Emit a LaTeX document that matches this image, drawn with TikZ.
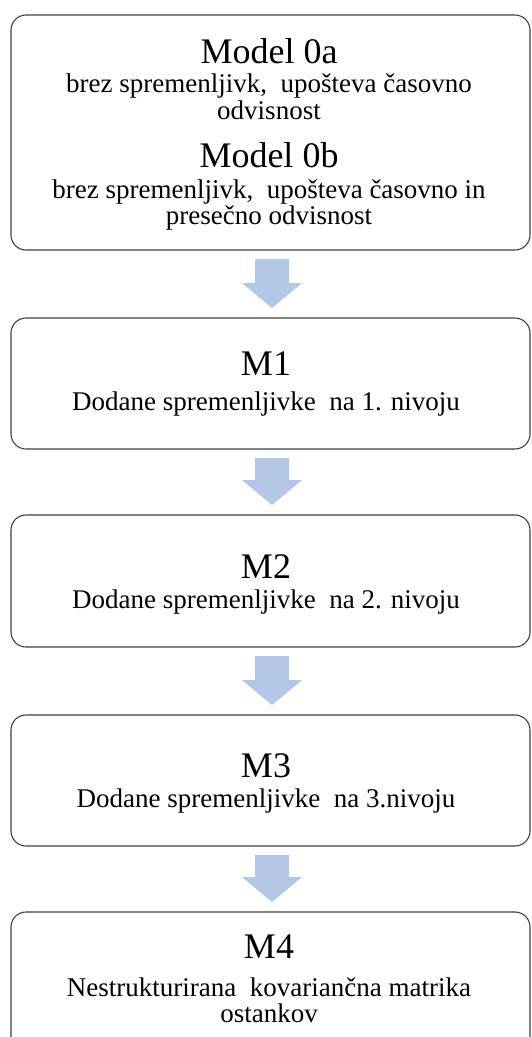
\documentclass[tikz,border=0pt]{standalone}
\usepackage{fontspec}
\setmainfont{Liberation Serif}
\usetikzlibrary{calc}
\definecolor{arrowblue}{RGB}{180,199,231}
\definecolor{boxline}{RGB}{64,64,64}
\tikzset{
  box/.style={draw=boxline, line width=1.1pt, rounded corners=15pt, minimum width=519pt, inner sep=0pt, outer sep=0pt},
  title/.style={anchor=base, font=\fontsize{36}{36}\selectfont, inner sep=0pt},
  sub/.style={anchor=base, font=\fontsize{27}{27}\selectfont, inner sep=0pt},
  flow/.style={fill=arrowblue},
}
\newcommand\flowarrow[2]{%
  \fill[flow] ($(#1.south)+(-15.5,9)$) -- ($(#1.south)+(18.5,9)$)
    -- ($(#2.north)+(18.5,-35)$) -- ($(#2.north)+(31.5,-35)$)
    -- ($(#2.north)+(1.5,-10)$) -- ($(#2.north)+(-28.5,-35)$)
    -- ($(#2.north)+(-15.5,-35)$) -- cycle;}
\begin{document}
\begin{tikzpicture}[x=1pt,y=-1pt]
\clip (0,0) rectangle (531,1037);
\fill[white] (0,0) rectangle (531,1037);
% boxes
\node[box, minimum height=235pt] (b0) at (270.5,132.5) {};
\node[box, minimum height=131pt] (b1) at (270.5,383.5) {};
\node[box, minimum height=132pt] (b2) at (270.5,581) {};
\node[box, minimum height=131pt] (b3) at (270.5,780.5) {};
\node[box, minimum height=160pt] (b4) at (270.5,992) {};
% arrows
\flowarrow{b0}{b1}
\flowarrow{b1}{b2}
\flowarrow{b2}{b3}
\flowarrow{b3}{b4}
% texts
\node[title] (t0a) at (269,63) {Model 0a};
\node[sub] (s0a1) at (269,92) {brez spremenljivk,~ upošteva časovno};
\node[sub] (s0a2) at (269,119) {odvisnost};
\node[title] (t0b) at (269,167) {Model 0b};
\node[sub] (s0b1) at (269,198) {brez spremenljivk,~ upošteva časovno in};
\node[sub] (s0b2) at (269,224) {presečno odvisnost};
\node[title] (t1) at (266,375) {M1};
\node[sub] (s1) at (266,410) {Dodane spremenljivke~ na 1. nivoju};
\node[title] (t2) at (266,578) {M2};
\node[sub] (s2) at (266,608) {Dodane spremenljivke~ na 2. nivoju};
\node[title] (t3) at (266,777) {M3};
\node[sub] (s3) at (266,807) {Dodane spremenljivke~ na 3.nivoju};
\node[title] (t4) at (269,958) {M4};
\node[sub] (s41) at (269,996) {Nestrukturirana~ kovariančna matrika};
\node[sub] (s42) at (269,1022) {ostankov};
\end{tikzpicture}
\end{document}
